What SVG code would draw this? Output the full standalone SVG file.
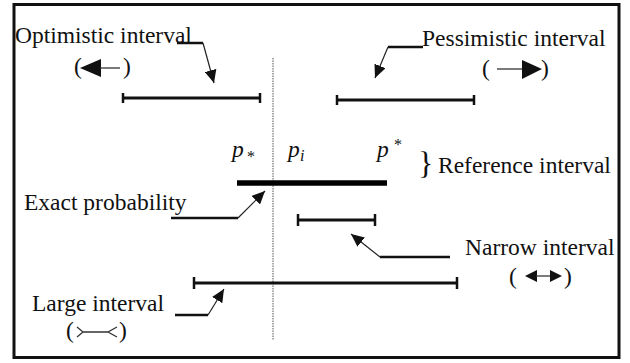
<svg xmlns="http://www.w3.org/2000/svg" width="630" height="363" viewBox="0 0 630 363">
<defs>
<style>
text{font-family:"Liberation Serif","Times New Roman",serif;font-size:23.5px;fill:#111}
.it{font-style:italic}
.sub{font-size:16px}
.isub{font-size:16px;font-style:italic}
.brace{font-size:32px}
.bar{stroke:#111;stroke-width:3;fill:none}
.tick{stroke:#111;stroke-width:2.5;fill:none}
.lead{stroke:#111;stroke-width:2.5;fill:none}
.slant{stroke:#222;stroke-width:1.2;fill:none}
.sym{stroke:#333;stroke-width:1.3;fill:none}
</style>
<marker id="ah" markerUnits="userSpaceOnUse" markerWidth="14" markerHeight="12" refX="13" refY="6" orient="auto">
<path d="M0,0 L13,6 L0,12 z" fill="#111"/>
</marker>
</defs>
<rect x="14" y="4.5" width="605" height="353" fill="#fff" stroke="#111" stroke-width="3"/>
<line x1="273" y1="58" x2="273" y2="340" stroke="#555" stroke-width="1" stroke-dasharray="1.5,1"/>

<g id="optimistic">
<text x="15" y="43">Optimistic interval</text>
<text x="74" y="74">(</text>
<path d="M80,68 L101,59 L101,77 z" fill="#111"/>
<line class="sym" x1="100" y1="68" x2="120" y2="68"/>
<text x="123" y="74">)</text>
<line class="bar" x1="123" y1="98" x2="260" y2="98"/>
<line class="tick" x1="123" y1="93" x2="123" y2="103"/>
<line class="tick" x1="260" y1="93" x2="260" y2="103"/>
</g>

<g id="pessimistic">
<text x="422" y="46">Pessimistic interval</text>
<text x="482" y="76">(</text>
<line class="sym" x1="497" y1="69" x2="524" y2="69"/>
<path d="M542,69 L522,60 L522,79 z" fill="#111"/>
<text x="541" y="76">)</text>
<line class="bar" x1="337" y1="100" x2="474" y2="100"/>
<line class="tick" x1="337" y1="95" x2="337" y2="105"/>
<line class="tick" x1="474" y1="95" x2="474" y2="105"/>
</g>

<g id="reference">
<text class="it" x="232" y="157">p</text>
<text class="sub" x="247" y="162">*</text>
<text class="it" x="288" y="157">p</text>
<text class="isub" x="300" y="161">i</text>
<text class="it" x="377" y="157">p</text>
<text class="sub" x="394" y="150">*</text>
<text class="brace" x="418" y="174">}</text>
<text x="438" y="173">Reference interval</text>
<line x1="237" y1="183" x2="387" y2="183" stroke="#000" stroke-width="5.5"/>
</g>

<g id="exact">
<text x="24" y="210">Exact probability</text>
</g>

<g id="narrow">
<text x="465" y="255">Narrow interval</text>
<text x="509" y="284">(</text>
<path d="M525,276 L537,270 L537,282 z" fill="#111"/>
<line class="sym" x1="536" y1="276" x2="551" y2="276"/>
<path d="M562,276 L550,270 L550,282 z" fill="#111"/>
<text x="564" y="284">)</text>
<line class="bar" x1="298" y1="220" x2="375" y2="220"/>
<line class="tick" x1="298" y1="214" x2="298" y2="226"/>
<line class="tick" x1="375" y1="214" x2="375" y2="226"/>
</g>

<g id="large">
<text x="32" y="311">Large interval</text>
<text x="66" y="338">(</text>
<path class="sym" d="M77,327 L83,332 L77,337 M83,332 L108,332 M117,327 L108,332 L117,337"/>
<text x="119" y="338">)</text>
<line class="bar" x1="194" y1="283" x2="457" y2="283"/>
<line class="tick" x1="194" y1="277" x2="194" y2="289"/>
<line class="tick" x1="457" y1="277" x2="457" y2="289"/>
</g>

<g id="connectors">
<line class="lead" x1="177" y1="43" x2="203" y2="43"/>
<line class="slant" x1="203" y1="43" x2="214" y2="83" marker-end="url(#ah)"/>
<line class="lead" x1="388" y1="47" x2="423" y2="47"/>
<line class="slant" x1="388" y1="47" x2="375" y2="78" marker-end="url(#ah)"/>
<line class="lead" x1="171" y1="218" x2="238" y2="218"/>
<line class="slant" x1="238" y1="218" x2="265" y2="191" marker-end="url(#ah)"/>
<line class="lead" x1="380" y1="257" x2="450" y2="257"/>
<line class="slant" x1="380" y1="257" x2="351" y2="234" marker-end="url(#ah)"/>
<line class="lead" x1="175" y1="315" x2="208" y2="315"/>
<line class="slant" x1="208" y1="315" x2="224" y2="289" marker-end="url(#ah)"/>
</g>
</svg>
